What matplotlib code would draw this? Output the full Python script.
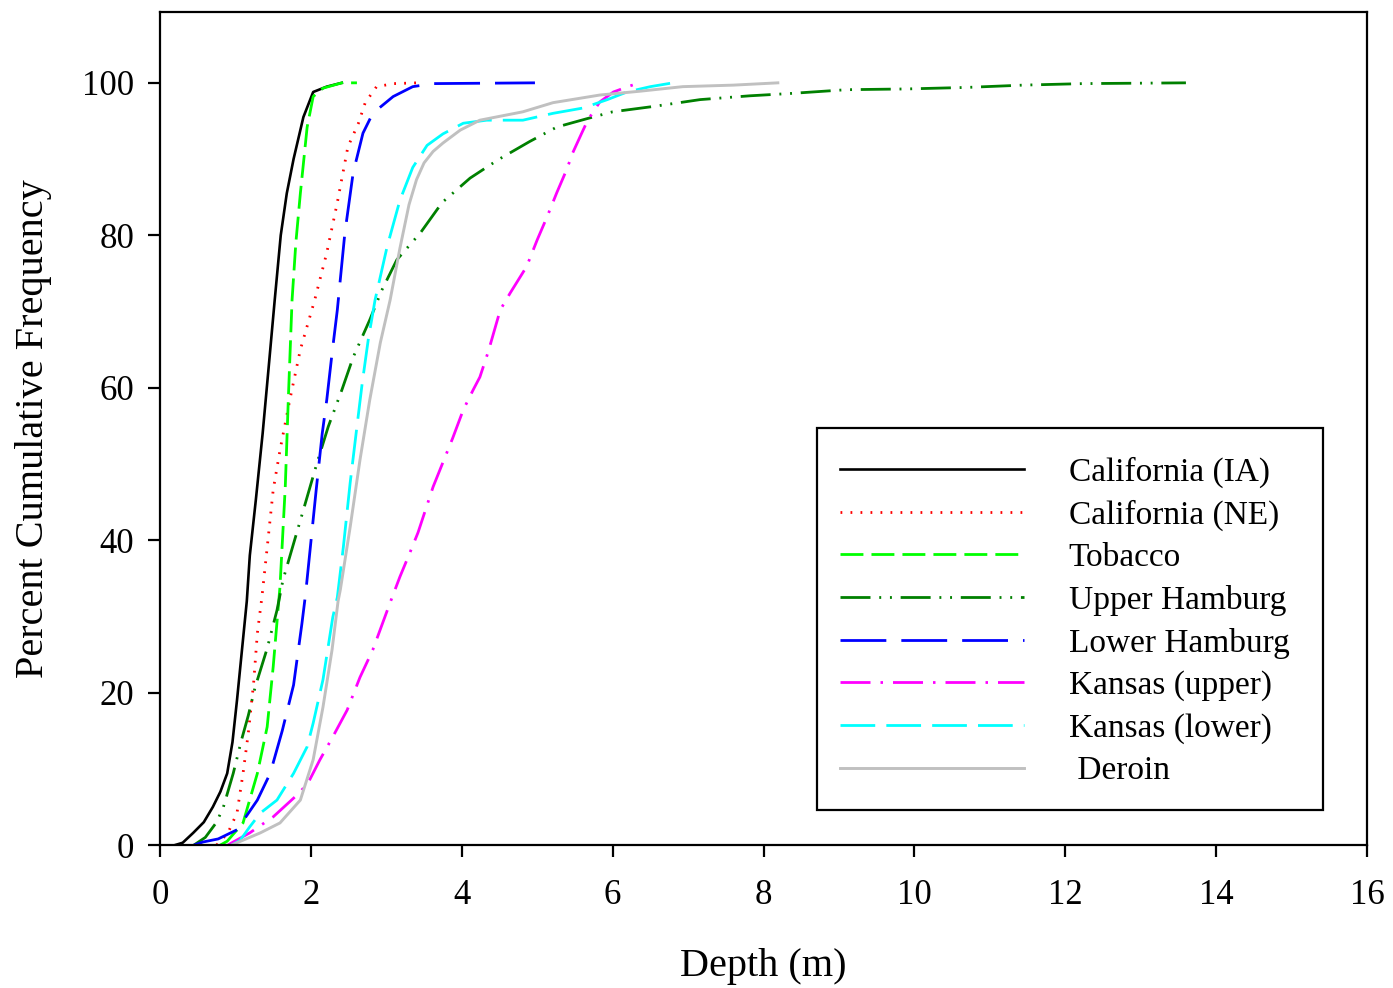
import matplotlib
matplotlib.use("Agg")
import matplotlib.pyplot as plt
from matplotlib.patches import Rectangle

plt.rcParams["font.family"] = ["Liberation Serif", "DejaVu Serif"]
plt.rcParams["lines.scale_dashes"] = False

# Cumulative depth distributions (depth in m, percent cumulative frequency)
cal_ia_x = [0.20, 0.30, 0.44, 0.58, 0.70, 0.80, 0.89, 0.96, 1.02, 1.10, 1.15, 1.19, 1.27, 1.36, 1.44, 1.52, 1.60, 1.68, 1.77, 1.90, 2.03, 2.21, 2.41]
cal_ia_y = [0.0, 0.3, 1.6, 3.0, 5.0, 7.0, 9.4, 13.5, 19.0, 27.0, 32.0, 38.0, 45.3, 54.0, 62.7, 71.5, 80.0, 85.5, 90.0, 95.5, 98.8, 99.5, 100.0]

cal_ne_x = [0.75, 0.90, 1.02, 1.10, 1.17, 1.24, 1.29, 1.35, 1.42, 1.50, 1.59, 1.72, 1.86, 2.05, 2.21, 2.35, 2.49, 2.63, 2.72, 2.87, 3.10, 3.41]
cal_ne_y = [0.0, 1.6, 4.2, 9.4, 14.7, 21.2, 27.8, 32.5, 39.0, 46.6, 51.8, 58.4, 65.0, 71.5, 77.7, 84.3, 91.6, 94.7, 97.4, 99.5, 99.9, 100.0]

tobacco_x = [0.80, 0.89, 1.10, 1.29, 1.42, 1.50, 1.59, 1.66, 1.70, 1.75, 1.80, 1.86, 1.95, 2.03, 2.16, 2.41, 2.61]
tobacco_y = [0.0, 0.5, 2.9, 9.4, 15.5, 23.4, 33.9, 47.0, 58.4, 71.5, 79.0, 85.5, 94.2, 98.2, 99.3, 100.0, 100.0]

up_ham_x = [0.45, 0.60, 0.75, 0.84, 0.97, 1.08, 1.17, 1.26, 1.42, 1.55, 1.63, 1.86, 2.08, 2.23, 2.41, 2.56, 2.78, 2.94, 3.14,
            3.45, 3.74, 4.11, 4.48, 4.90, 5.26, 5.66, 6.00, 6.54, 7.16, 7.82, 8.35, 9.10, 9.90, 10.70, 11.44, 12.24, 13.60]
up_ham_y = [0.0, 1.0, 3.0, 5.0, 9.4, 13.8, 17.0, 20.7, 25.8, 30.8, 34.8, 42.6, 50.1, 54.9, 59.7, 64.0, 68.9, 72.8, 76.8,
            80.3, 84.3, 87.5, 89.9, 92.3, 94.2, 95.3, 96.2, 96.9, 97.8, 98.3, 98.6, 99.1, 99.2, 99.4, 99.7, 99.9, 100.0]

low_ham_x = [0.45, 0.57, 0.77, 1.02, 1.29, 1.46, 1.62, 1.77, 1.88, 1.93, 2.07, 2.15, 2.21, 2.28, 2.35, 2.45, 2.56, 2.69, 2.82, 3.09, 3.35, 3.62, 4.97]
low_ham_y = [0.0, 0.4, 0.8, 2.0, 5.9, 9.4, 15.0, 21.0, 29.0, 33.0, 46.6, 54.0, 58.4, 64.5, 70.2, 80.3, 88.2, 93.4, 96.0, 98.2, 99.5, 99.9, 100.0]

kan_up_x = [0.90, 0.97, 1.19, 1.50, 1.82, 1.96, 2.12, 2.29, 2.48, 2.65, 2.82, 3.05, 3.18, 3.31, 3.42, 3.62, 3.88, 4.02, 4.15, 4.24, 4.35,
            4.51, 4.64, 4.86, 5.00, 5.13, 5.26, 5.39, 5.47, 5.59, 5.67, 5.83, 6.01, 6.23, 6.36]
kan_up_y = [0.0, 0.4, 1.6, 3.7, 6.6, 8.1, 11.2, 14.2, 17.7, 22.0, 25.6, 31.8, 35.2, 38.3, 41.0, 47.0, 53.4, 57.1, 59.7, 61.4, 64.7,
            70.2, 72.4, 75.9, 79.4, 82.4, 85.6, 88.6, 90.8, 93.4, 95.1, 97.5, 98.8, 99.6, 100.0]

kan_low_x = [0.95, 1.06, 1.19, 1.33, 1.55, 1.77, 1.95, 2.03, 2.16, 2.29, 2.35, 2.43, 2.52, 2.61, 2.68, 2.76, 2.85, 3.01, 3.18, 3.35,
             3.54, 3.75, 4.02, 4.33, 4.81, 5.21, 5.61, 5.93, 6.19, 6.50, 6.80]
kan_low_y = [0.0, 0.6, 2.4, 4.2, 5.9, 9.4, 12.9, 16.0, 21.7, 29.9, 32.5, 39.1, 47.5, 54.9, 60.6, 66.3, 71.5, 78.5, 84.6, 88.9,
             91.8, 93.3, 94.7, 95.1, 95.1, 96.0, 96.7, 97.8, 98.8, 99.5, 100.0]

deroin_x = [0.95, 1.02, 1.33, 1.59, 1.86, 2.03, 2.16, 2.28, 2.36, 2.39, 2.52, 2.65, 2.78, 2.92, 3.05, 3.18, 3.30, 3.40, 3.50, 3.62, 3.75, 3.98,
            4.24, 4.81, 5.21, 5.83, 6.36, 6.93, 7.60, 8.19]
deroin_y = [0.0, 0.3, 1.6, 2.9, 5.9, 11.2, 18.1, 25.6, 32.0, 33.5, 41.7, 50.5, 58.4, 65.9, 71.5, 78.3, 84.0, 87.3, 89.5, 91.0, 92.1, 93.8,
            95.1, 96.2, 97.4, 98.4, 98.9, 99.5, 99.7, 100.0]

series = [
    ("California (IA)", cal_ia_x, cal_ia_y, "black", "-", 1.9),
    ("California (NE)", cal_ne_x, cal_ne_y, "#ff0000", (0, (1.3, 5.9)), 2.0),
    ("Tobacco", tobacco_x, tobacco_y, "#00ff00", (0, (16.5, 5.8)), 2.0),
    ("Upper Hamburg", up_ham_x, up_ham_y, "#008000", (0, (21.6, 6.3, 1.4, 6.3, 1.4, 6.3)), 2.0),
    ("Lower Hamburg", low_ham_x, low_ham_y, "#0000ff", (0, (33.0, 10.8)), 2.0),
    ("Kansas (upper)", kan_up_x, kan_up_y, "#ff00ff", (0, (21.6, 7.2, 1.8, 7.2)), 2.0),
    ("Kansas (lower)", kan_low_x, kan_low_y, "#00ffff", (0, (25.0, 8.0)), 2.0),
    (" Deroin", deroin_x, deroin_y, "#c0c0c0", "-", 2.1),
]

fig = plt.figure(figsize=(13.93, 9.88), dpi=100)
ax = fig.add_axes([0.1149, 0.1447, 0.8664, 0.8432])

for label, xs, ys, color, ls, lw in series:
    ax.plot(xs, ys, color=color, linestyle=ls, linewidth=lw, label=label)

ax.set_xlim(0, 16)
ax.set_ylim(0, 109.3)
ax.set_xticks(range(0, 17, 2))
ax.set_yticks(range(0, 101, 20))

for side in ["left", "bottom", "top", "right"]:
    ax.spines[side].set_linewidth(1.6)
    ax.spines[side].set_color("black")

ax.tick_params(direction="out", length=8.5, width=1.6, labelsize=25, pad=10,
               top=False, right=False)
ax.tick_params(axis="x", pad=16)

ax.set_xlabel("Depth (m)", fontsize=29, labelpad=26)
ax.set_ylabel("Percent Cumulative Frequency", fontsize=29, labelpad=22)

# Legend entries without their own frame; a separate box is drawn around them
leg = ax.legend(loc="upper left", bbox_to_anchor=(0.5443, 0.4946), borderaxespad=0,
                fontsize=24, frameon=False,
                handlelength=5.5, handletextpad=1.35, labelspacing=0.355,
                borderpad=0.7)
box = Rectangle((0.5443, 0.042), 0.9635 - 0.5443, 0.5006 - 0.042,
                transform=ax.transAxes, facecolor="white", edgecolor="black",
                linewidth=1.6, zorder=4)
ax.add_patch(box)
leg.set_zorder(5)

fig.savefig("out.png", dpi=100)
